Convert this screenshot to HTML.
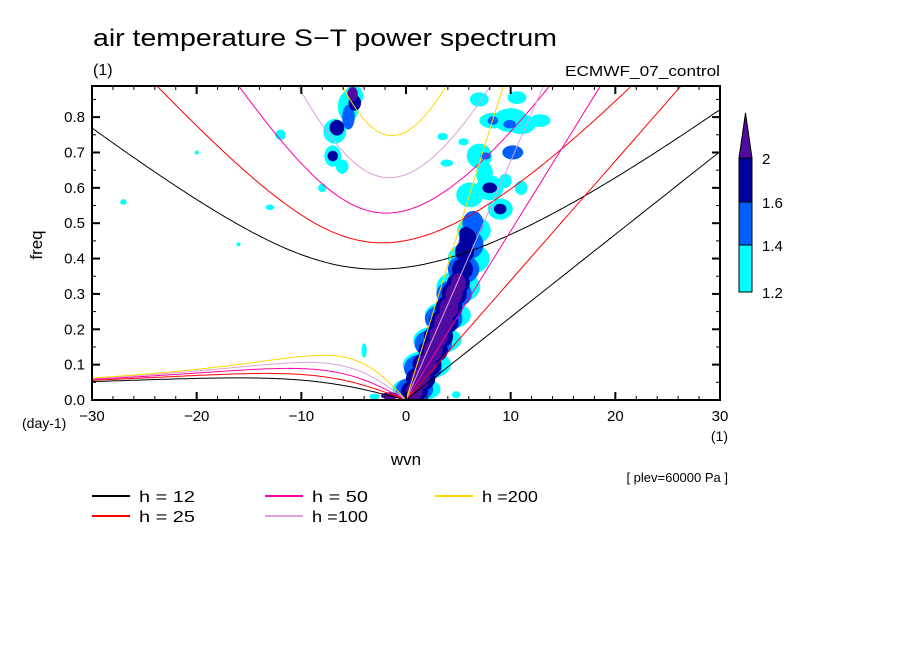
<!DOCTYPE html>
<html><head><meta charset="utf-8"><style>
body{margin:0;background:#fff;}
svg{display:block;font-family:"Liberation Sans",sans-serif;}
</style></head><body>
<svg id="chart" width="904" height="654" viewBox="0 0 904 654" xmlns="http://www.w3.org/2000/svg">
<defs><clipPath id="pc"><rect x="92" y="86" width="628" height="314"/></clipPath></defs>
<rect width="904" height="654" fill="#fff"/>
<text x="93" y="46" font-size="24" textLength="464" lengthAdjust="spacingAndGlyphs">air temperature S−T power spectrum</text>
<text x="93" y="75" font-size="16">(1)</text>
<text x="565" y="76" font-size="15" textLength="155" lengthAdjust="spacingAndGlyphs">ECMWF_07_control</text>
<g id="shade" clip-path="url(#pc)"></g>
<g id="curves" clip-path="url(#pc)"></g>
<g id="axes"></g>
<text x="42" y="245" font-size="17" text-anchor="middle" transform="rotate(-90 42 245)">freq</text>
<text x="22" y="428" font-size="14">(day-1)</text>
<text x="728" y="441" font-size="14" text-anchor="end">(1)</text>
<text x="406" y="465" font-size="17" text-anchor="middle">wvn</text>
<text x="728" y="482" font-size="13" text-anchor="end">[ plev=60000 Pa ]</text>
<g id="legend"></g>
<g id="cbar"></g>
</svg>
<script>
const depths=[12,25,50,100,200];
const depthColors=["#000000","#ff0000","#ff00a0","#dda0dd","#ffd700"];
const levels=[1.2,1.4,1.6,2];
const levelColors=["#00ffff","#0060ff","#0000a0","#500ca0"];
// Kelvin-band shading (wavenumber, frequency, half-width wvn, half-height freq, level index)
const bandK=[0.8,1.4,2.0,2.6,3.1,3.6,4.1,4.6,5.0,-1.5, 0.8,1.4,2.0,2.6,3.1,3.6,4.1,4.6,5.0,5.4,5.6,5.9, 0.8,1.6,2.6,3.6,4.6,5.5,6.2,6.4, 1.0,2.0,3.0,4.0,5.0,6.0,6.5];
const bandF=[0.025,0.06,0.10,0.14,0.18,0.22,0.26,0.30,0.33,0.012, 0.025,0.06,0.10,0.14,0.18,0.22,0.26,0.30,0.33,0.37,0.42,0.46, 0.03,0.09,0.16,0.23,0.30,0.37,0.44,0.50, 0.03,0.10,0.17,0.24,0.32,0.40,0.48];
const bandDK=[0.8,0.9,0.9,0.9,0.9,0.9,0.9,0.8,0.7,0.9, 1.3,1.4,1.4,1.4,1.4,1.4,1.3,1.2,1.1,1.0,0.9,0.8, 1.8,1.8,1.8,1.8,1.7,1.5,1.2,1.0, 2.3,2.3,2.3,2.2,2.1,2.0,1.6];
const bandDF=[0.025,0.03,0.03,0.03,0.03,0.03,0.03,0.03,0.03,0.01, 0.03,0.035,0.035,0.035,0.035,0.035,0.035,0.035,0.03,0.03,0.03,0.025, 0.035,0.04,0.04,0.04,0.04,0.04,0.04,0.035, 0.035,0.04,0.04,0.04,0.045,0.045,0.04];
const bandL=[3,3,3,3,3,3,3,3,3,3, 2,2,2,2,2,2,2,2,2,2,2,2, 1,1,1,1,1,1,1,1, 0,0,0,0,0,0,0];
// scattered patches
const blobK=[5.7,8,9,8.3,9.9,7.6, 6.1,8,9,8.3,9.9,10.2,7, 10,11,12.8,7,10.6,3.9,3.5,5.5,9.5,11,7.5, -5.1,-4.9,-6.6,-7,-5.5, -5,-5.5,-6.8,-7,-6.1,-12,-8, -27,-20,-16,-13,-4,1.1,-3,4.8];
const blobF=[0.47,0.6,0.54,0.79,0.78,0.69, 0.58,0.6,0.54,0.79,0.78,0.70,0.69, 0.80,0.78,0.79,0.85,0.855,0.67,0.745,0.73,0.62,0.6,0.64, 0.865,0.84,0.77,0.69,0.8, 0.86,0.83,0.76,0.69,0.66,0.75,0.6, 0.56,0.70,0.44,0.545,0.14,0.11,0.01,0.015];
const blobDK=[0.6,0.7,0.6,0.5,0.6,0.5, 1.3,1.3,1.2,1.3,1.3,1.0,1.2, 1.5,1.4,1.0,0.9,0.9,0.6,0.5,0.5,0.6,0.6,0.8, 0.5,0.6,0.7,0.5,0.6, 0.9,1.0,1.1,0.8,0.6,0.5,0.4, 0.3,0.2,0.2,0.4,0.25,0.15,0.5,0.4];
const blobDF=[0.02,0.015,0.015,0.012,0.012,0.01, 0.035,0.035,0.03,0.022,0.022,0.02,0.035, 0.025,0.028,0.018,0.02,0.018,0.01,0.01,0.01,0.02,0.02,0.035, 0.02,0.022,0.022,0.015,0.035, 0.03,0.045,0.035,0.03,0.02,0.015,0.012, 0.008,0.006,0.006,0.008,0.02,0.008,0.008,0.01];
const blobL=[2,2,2,1,1,1, 0,0,0,0,0,1,0, 0,0,0,0,0,0,0,0,0,0,0, 3,2,2,2,1, 0,0,0,0,0,0,0, 0,0,0,0,0,0,0,0];
const xTicks=[-30,-20,-10,0,10,20,30];
const yTicks=[0,0.1,0.2,0.3,0.4,0.5,0.6,0.7,0.8];
const yTickLabels=["0.0","0.1","0.2","0.3","0.4","0.5","0.6","0.7","0.8"];

const NS="http://www.w3.org/2000/svg";
const X0=92,X1=720,Y0=400,YT=86,FMAX=0.888;
const xs=k=>X0+(k+30)/60*(X1-X0);
const ys=f=>Y0-f*(Y0-YT)/FMAX;
function mk(tag,attrs,parent){const e=document.createElementNS(NS,tag);for(const a in attrs)e.setAttribute(a,attrs[a]);parent.appendChild(e);return e;}

const shade=document.getElementById('shade');
const allK=bandK.concat(blobK),allF=bandF.concat(blobF),allDK=bandDK.concat(blobDK),allDF=bandDF.concat(blobDF),allL=bandL.concat(blobL);
for(let lv=0;lv<4;lv++){
  for(let i=0;i<allK.length;i++){
    if(allL[i]!==lv)continue;
    const e=mk('ellipse',{cx:xs(allK[i]),cy:ys(allF[i]),rx:allDK[i]*(X1-X0)/60,ry:allDF[i]*(Y0-YT)/FMAX,fill:levelColors[lv]},shade);
    
    
  }
}

const g=9.81,a=6.371e6,Om=7.292e-5,beta=2*Om/a;
const cpd=w=>w*86400/(2*Math.PI);
function solve(c,k,w){for(let i=0;i<60;i++){const F=w*w*w-(c*c*k*k+3*beta*c)*w-beta*c*c*k;const d=3*w*w-(c*c*k*k+3*beta*c);w-=F/d;}return w;}
const curves=document.getElementById('curves');
depths.forEach((h,j)=>{
  const c=Math.sqrt(g*h);const col=depthColors[j];
  let ig=[],er=[];
  for(let s=-30;s<=30.001;s+=0.25){
    const k=s/a;
    const wi=solve(c,k,Math.sqrt(c*c*k*k+3*beta*c));
    ig.push(xs(s).toFixed(1)+','+ys(cpd(wi)).toFixed(1));
    if(s<=0){const w0=-beta*k/(k*k+3*beta/c);er.push(xs(s).toFixed(1)+','+ys(cpd(w0)).toFixed(1));}
  }
  const p1=mk('polyline',{points:ig.join(' '),fill:'none',stroke:col,'stroke-width':1},curves);
  
  
  const p2=mk('polyline',{points:er.join(' '),fill:'none',stroke:col,'stroke-width':1},curves);
  
  
  const kel=[];for(let s=0;s<=30;s+=1){kel.push(xs(s).toFixed(1)+','+ys(cpd(c*s/a)).toFixed(1));}
  const p3=mk('polyline',{points:kel.join(' '),fill:'none',stroke:col,'stroke-width':1},curves);
  
  
});

const ax=document.getElementById('axes');
const fr=mk('rect',{x:X0,y:YT,width:X1-X0,height:Y0-YT,fill:'none',stroke:'#000','stroke-width':2},ax);


for(let k=-30;k<=30;k+=2){
  const major=(k%10===0);const L=major?8:4;const x=xs(k);
  mk('line',{x1:x,y1:Y0,x2:x,y2:Y0-L,stroke:'#000','stroke-width':major?2:1},ax);
  mk('line',{x1:x,y1:YT,x2:x,y2:YT+L,stroke:'#000','stroke-width':major?2:1},ax);
}
xTicks.forEach(k=>{
  const t=mk('text',{x:xs(k),y:Y0+21,'font-size':15,'text-anchor':'middle'},ax);t.textContent=(k<0?'−':'')+Math.abs(k);
  
  
});
for(let f=0;f<=0.851;f+=0.05){
  const major=Math.abs(f*10-Math.round(f*10))<1e-6;const L=major?8:4;const y=ys(f);
  mk('line',{x1:X0,y1:y,x2:X0+L,y2:y,stroke:'#000','stroke-width':major?2:1},ax);
  mk('line',{x1:X1,y1:y,x2:X1-L,y2:y,stroke:'#000','stroke-width':major?2:1},ax);
}
yTicks.forEach((f,i)=>{
  const t=mk('text',{x:85,y:ys(f)+5,'font-size':15,'text-anchor':'end'},ax);t.textContent=yTickLabels[i];
  
  
});

const lg=document.getElementById('legend');
const lx=[92,92,265,265,435],ly=[496,516,496,516,496];
depths.forEach((h,j)=>{
  const ln=mk('line',{x1:lx[j],y1:ly[j],x2:lx[j]+38,y2:ly[j],stroke:depthColors[j],'stroke-width':2},lg);
  
  
  const t=mk('text',{x:lx[j]+47,y:ly[j]+6,'font-size':16,textLength:56,lengthAdjust:'spacingAndGlyphs'},lg);
  t.textContent=h>=100?'h ='+h:'h = '+h;
  
  
});

const cb=document.getElementById('cbar');
const cbY=[292,245,202,158];
for(let i=0;i<3;i++){
  const r=mk('rect',{x:739,y:cbY[i+1],width:13,height:cbY[i]-cbY[i+1],fill:levelColors[i],stroke:'#000','stroke-width':1},cb);
  
  
}
const tri=mk('polygon',{points:'739,158 752,158 745.5,113',fill:levelColors[3],stroke:'#000','stroke-width':1},cb);


levels.forEach((v,i)=>{
  const t=mk('text',{x:762,y:cbY[i]+6,'font-size':15},cb);t.textContent=v;
  
  
});
</script>
</body></html>
